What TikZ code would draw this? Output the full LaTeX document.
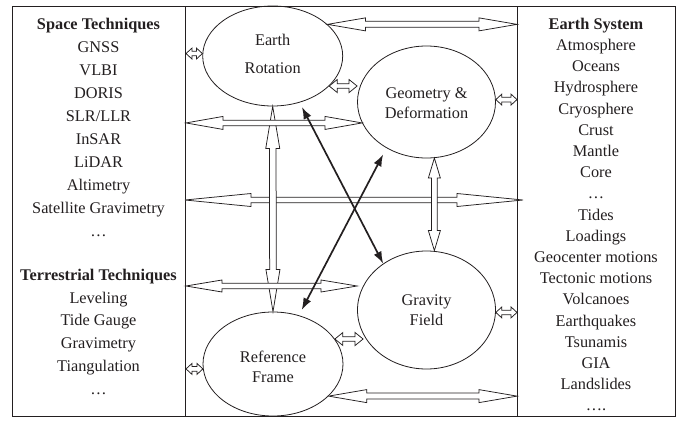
\documentclass[tikz,border=0pt]{standalone}
\usepackage{fontspec}
\setmainfont{Liberation Serif}
\usetikzlibrary{calc,shapes.geometric,arrows.meta}
\definecolor{ink}{RGB}{35,31,32}
% hollow double-headed arrow: #1 from, #2 to, #3 head length, #4 head half-width, #5 shaft half-width
\newcommand\hollowarrow[5]{%
  \draw[hollow] (#1)
    -- ($(#1)!#3!(#2)!#4!90:(#2)$)
    -- ($(#1)!#3!(#2)!#5!90:(#2)$)
    -- ($(#2)!#3!(#1)!#5!90:(#2)$)
    -- ($(#2)!#3!(#1)!#4!90:(#2)$)
    -- (#2)
    -- ($(#2)!#3!(#1)!#4!-90:(#2)$)
    -- ($(#2)!#3!(#1)!#5!-90:(#2)$)
    -- ($(#1)!#3!(#2)!#5!-90:(#2)$)
    -- ($(#1)!#3!(#2)!#4!-90:(#2)$)
    -- cycle;}
\begin{document}
\begin{tikzpicture}[x=1pt,y=-1pt,
  font=\fontsize{16.3}{20.5}\selectfont, text=ink,
  box/.style={rectangle, draw=ink, line width=1pt, inner sep=0pt, anchor=north west},
  ell/.style={ellipse, draw=ink, line width=0.8pt, inner sep=0pt, align=center},
  hollow/.style={draw=ink, fill=white, line width=0.75pt, line join=miter},
  blk/.style={draw=ink, line width=1.7pt, {Latex[length=12pt,width=8.5pt]}-{Latex[length=12pt,width=8.5pt]}},
  lst/.style={anchor=base, inner sep=0pt}]
\useasboundingbox (0,0) rectangle (681,421);

% frames
\node[box, minimum width=173pt, minimum height=410pt] (tech) at (12,6) {};
\node[box, minimum width=332pt, minimum height=410pt] (mid) at (185,6) {};
\node[box, minimum width=158pt, minimum height=410pt] (sys) at (517,6) {};

% left list
\foreach \y/\t [count=\i] in {29.3/{\textbf{Space Techniques}}, 52/GNSS, 75/VLBI, 98/DORIS,
  121/{SLR/LLR}, 144/InSAR, 167/LiDAR, 190/Altimetry, 213/{Satellite Gravimetry}, 236/{…},
  280/{\textbf{Terrestrial Techniques}}, 303/Leveling, 325.5/{Tide Gauge}, 348/Gravimetry,
  371/Tiangulation, 394/{…}}
  \node[lst] (tl\i) at (98.5,\y) {\t};

% right list
\foreach \t [count=\i from 0] in {\textbf{Earth System}, Atmosphere, Oceans, Hydrosphere,
  Cryosphere, Crust, Mantle, Core, …, Tides, Loadings, Geocenter motions, Tectonic motions,
  Volcanoes, Earthquakes, Tsunamis, GIA, Landslides, ….}
  \node[lst] (sl\i) at (596,29.3+21.2*\i) {\t};

% ellipses
\node[ell, minimum width=140pt, minimum height=100pt] (er) at (272.7,56) {Earth\\[7.8pt]Rotation\rule[-4.5pt]{0pt}{0pt}};
\node[ell, minimum width=138pt, minimum height=112pt] (gd) at (426.5,102) {\rule{0pt}{14pt}Geometry \&\\[-0.5pt]Deformation};
\node[ell, minimum width=138pt, minimum height=118pt] (gf) at (426.5,310) {Gravity\\Field};
\node[ell, minimum width=140pt, minimum height=104pt] (rf) at (273,364) {\rule{0pt}{17pt}Reference\\[-0.1pt]Frame};

% helper coordinates
\coordinate (p9l) at (185,200);
\coordinate (p9r) at (523,200);
\coordinate (p10) at (0,286);
\coordinate (c1) at (tech.east |- er.178);
\coordinate (c2) at (tech.east |- rf.184);
\coordinate (c3) at (sys.west |- gd.2);
\coordinate (c4) at (sys.west |- gf.-2);
\coordinate (c5) at (gd.west |- er.-28);
\coordinate (c6) at ($(gf.west |- rf.22)+(6,0)$);
\coordinate (c7) at (sys.west |- er.30);
\coordinate (c8) at (sys.west |- rf.-30);
\coordinate (c9) at (tech.east |- gd.198);
\coordinate (c10) at (tech.east |- p10);
\coordinate (c11) at (gf.west |- p10);
\coordinate (c12) at (gd.-82 |- gf.north);

% long horizontal arrow in the middle (below the verticals)
\hollowarrow{p9l}{p9r}{66pt}{6.5pt}{2.7pt}
% vertical arrows
\hollowarrow{er.south}{rf.north}{42pt}{7pt}{3.3pt}
\hollowarrow{gd.-82}{c12}{20pt}{6pt}{2.8pt}
% other long horizontal arrows
\hollowarrow{c9}{gd.198}{37pt}{6.5pt}{2.8pt}
\hollowarrow{c10}{c11}{36pt}{6pt}{2.8pt}
\hollowarrow{er.30}{c7}{38pt}{6.5pt}{3pt}
\hollowarrow{rf.-30}{c8}{38pt}{6.5pt}{3pt}
% small arrows
\hollowarrow{c1}{er.178}{6pt}{5.5pt}{2.3pt}
\hollowarrow{c2}{rf.184}{6pt}{5.5pt}{2.3pt}
\hollowarrow{gd.2}{c3}{6pt}{5.5pt}{2.3pt}
\hollowarrow{gf.-2}{c4}{6pt}{5.5pt}{2.3pt}
\hollowarrow{er.-28}{c5}{8pt}{6.5pt}{2.3pt}
\hollowarrow{rf.22}{c6}{8pt}{6.5pt}{2.3pt}

% black arrows
\draw[blk, shorten <=5pt] (er.-60) -- (gf.133);
\draw[blk, shorten <=7pt, shorten >=6pt] (gd.-131) -- (rf.62);
\end{tikzpicture}
\end{document}
